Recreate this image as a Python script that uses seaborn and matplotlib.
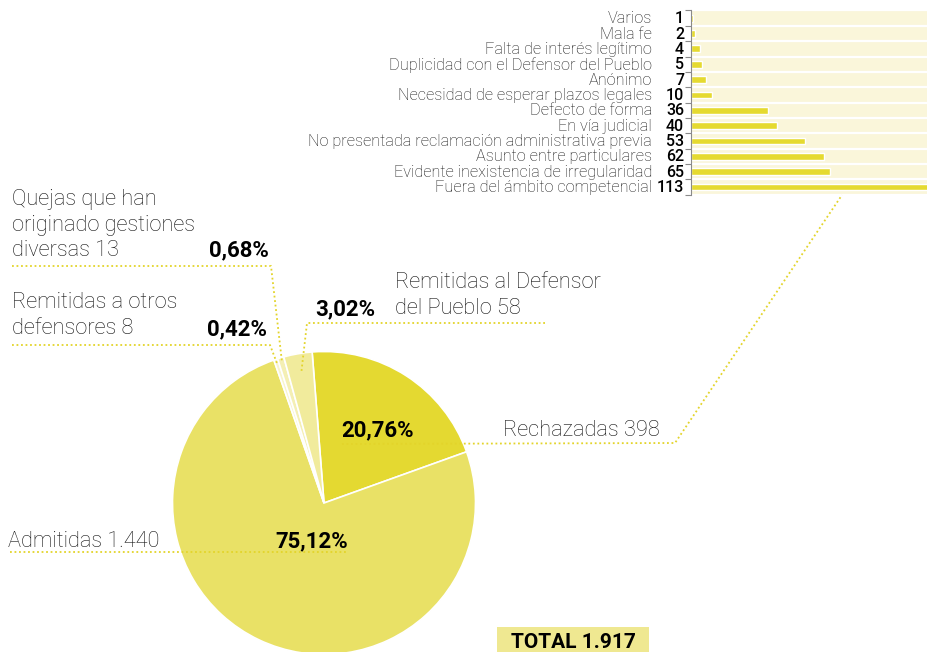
import matplotlib
matplotlib.use("Agg")
import numpy as np
import pandas as pd
import matplotlib.pyplot as plt
from matplotlib import transforms
import seaborn as sns

# Quejas según su tramitación (sectores)
pie_labels = [
    ["Rechazadas 398"],
    ["Admitidas 1.440"],
    ["Remitidas a otros", "defensores 8"],
    ["Quejas que han", "originado gestiones", "diversas 13"],
    ["Remitidas al Defensor", "del Pueblo 58"],
]
pie_counts = [398, 1440, 8, 13, 58]
pie_pct = ["20,76%", "75,12%", "0,42%", "0,68%", "3,02%"]

# Motivos de rechazo
reject_reasons = [
    "Varios",
    "Mala fe",
    "Falta de interés legítimo",
    "Duplicidad con el Defensor del Pueblo",
    "Anónimo",
    "Necesidad de esperar plazos legales",
    "Defecto de forma",
    "En vía judicial",
    "No presentada reclamación administrativa previa",
    "Asunto entre particulares",
    "Evidente inexistencia de irregularidad",
    "Fuera del ámbito competencial",
]
reject_counts = [1, 2, 4, 5, 7, 10, 36, 40, 53, 62, 65, 113]

# Paleta
C_RECH = "#e4d931"
C_ADM = "#e9e166"
C_OTROS = "#f8f4cc"
C_GEST = "#f4efb4"
C_DP = "#f1eb9c"
C_BAR = "#e5da30"
C_BAND = "#faf6da"
C_DOT = "#e3d42a"
C_BOX = "#efe891"
C_TXT = "#141414"

sns.set_theme(style="white")
plt.rcParams["font.family"] = ["Roboto", "DejaVu Sans"]

W, H = 927, 652
fig = plt.figure(figsize=(W / 100, H / 100), dpi=100)
fig.patch.set_facecolor("white")


def px_box(x0, y0, x1, y1):
    return [x0 / W, 1 - y1 / H, (x1 - x0) / W, (y1 - y0) / H]


# ---- Barras horizontales de motivos de rechazo ----
axb = fig.add_axes(px_box(691, 10.5, 927, 194.7))
df = pd.DataFrame({"motivo": reject_reasons, "n": reject_counts})
sns.barplot(data=df, y="motivo", x="n", orient="h", color=C_BAR,
            saturation=1, width=0.44, ax=axb)
axb.set_xlim(0, 110)
axb.set_ylim(len(reject_reasons) - 0.5, -0.5)
axb.set_facecolor(C_BAND)
bounds = np.arange(-0.5, len(reject_reasons), 1.0)
axb.set_yticks(bounds, minor=True)
axb.set_yticks([])
axb.set_xticks([])
axb.set_xlabel("")
axb.set_ylabel("")
axb.grid(False)
axb.grid(which="minor", axis="y", color="white", linewidth=1.6)
axb.tick_params(axis="y", which="minor", length=4, width=0.8, color="#8a8a8a",
                direction="out", left=True)
for s in ["top", "right", "bottom"]:
    axb.spines[s].set_visible(False)
axb.spines["left"].set_color("#8a8a8a")
axb.spines["left"].set_linewidth(0.8)
axb.set_axisbelow(True)

lbl_tr = transforms.blended_transform_factory(axb.transAxes, axb.transData)
for i, (name, v) in enumerate(zip(reject_reasons, reject_counts)):
    axb.annotate(name, xy=(0, i), xycoords=lbl_tr, xytext=(-39, -0.5),
                 textcoords="offset pixels", ha="right", va="center",
                 fontsize=11.7, color=C_TXT, fontweight="light", annotation_clip=False)
    axb.annotate(str(v), xy=(0, i), xycoords=lbl_tr, xytext=(-7, -0.5),
                 textcoords="offset pixels", ha="right", va="center",
                 fontsize=11.5, color="black", fontweight="medium", annotation_clip=False)

# ---- Tarta de tramitación ----
cx, cy, r = 324, 503, 151.5
axp = fig.add_axes(px_box(cx - r, cy - r, cx + r, cy + r))
wedges, _ = axp.pie(pie_counts, colors=[C_RECH, C_ADM, C_OTROS, C_GEST, C_DP],
                    startangle=94.5, counterclock=False, radius=1,
                    wedgeprops=dict(edgecolor="white", linewidth=1.2))
axp.set_xlim(-1, 1)
axp.set_ylim(-1, 1)
axp.set_axis_off()

# ---- Capa de anotaciones en píxeles ----
axo = fig.add_axes([0, 0, 1, 1], zorder=5)
axo.set_xlim(0, W)
axo.set_ylim(H, 0)
axo.axis("off")
axo.patch.set_alpha(0)


def wedge_point(idx, frac):
    w = wedges[idx]
    ang = np.deg2rad((w.theta1 + w.theta2) / 2)
    disp = axp.transData.transform((frac * np.cos(ang), frac * np.sin(ang)))
    return axo.transData.inverted().transform(disp)


dot = dict(color=C_DOT, linewidth=1.3, linestyle=(0, (1, 1.5)))

# Rechazadas -> barras
axo.plot([342, 675, 842], [444, 443, 195], **dot)
# Admitidas
axo.plot([10, 348], [552, 552], **dot)
# Remitidas a otros defensores
p = wedge_point(2, 0.97)
axo.plot([12, 270, p[0]], [345, 345, p[1]], **dot)
# Gestiones diversas
p = wedge_point(3, 0.97)
axo.plot([12, 271, p[0]], [266, 266, p[1]], **dot)
# Remitidas al Defensor del Pueblo
p = wedge_point(4, 0.87)
axo.plot([545, 307, p[0]], [323, 323, p[1]], **dot)

big = dict(fontsize=15.7, color=C_TXT, fontweight="light", va="baseline")
pct = dict(fontsize=16, color="black", fontweight="bold", va="baseline")

# Etiquetas de texto
for k, line in enumerate(pie_labels[3]):
    axo.text(12, 205 + 25.5 * k, line, ha="left", **big)
for k, line in enumerate(pie_labels[2]):
    axo.text(12, 308 + 26 * k, line, ha="left", **big)
for k, line in enumerate(pie_labels[4]):
    axo.text(395, 288 + 26 * k, line, ha="left", **big)
axo.text(503, 436, pie_labels[0][0], ha="left", **big)
axo.text(8, 547, pie_labels[1][0], ha="left", **big)

axo.text(269, 256, pie_pct[3], ha="right", **pct)
axo.text(267, 335, pie_pct[2], ha="right", **pct)
axo.text(375, 315, pie_pct[4], ha="right", **pct)
axo.text(377.5, 436, pie_pct[0], ha="center", **pct)
axo.text(311.5, 547, pie_pct[1], ha="center", **pct)

total = sum(pie_counts)
total_txt = f"{total:,}".replace(",", ".")
axo.add_patch(plt.Rectangle((497, 627), 152, 26, facecolor=C_BOX, edgecolor="none"))
axo.text(573.5, 648, f"TOTAL {total_txt}", ha="center", va="baseline",
         fontsize=15, fontweight="bold", color="black")

fig.savefig("out.png", dpi=100, facecolor="white")
